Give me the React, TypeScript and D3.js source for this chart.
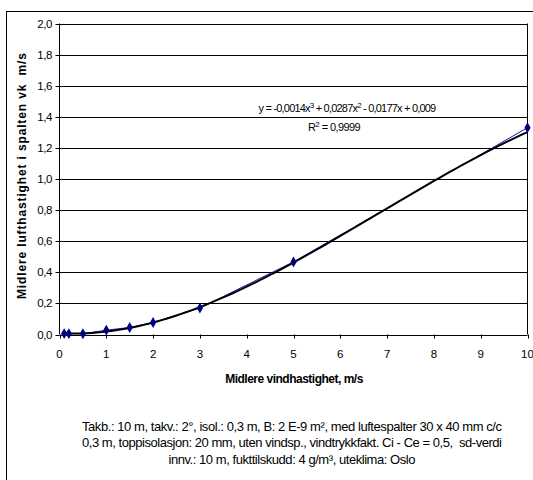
import React from 'react';
import * as d3 from 'd3';

// wind speed (m/s) and mean air velocity in the gap (m/s)
const windSpeeds = [0.1, 0.2, 0.5, 1, 1.5, 2, 3, 5, 10];
const airSpeeds = [0.006, 0.006, 0.005, 0.028, 0.045, 0.077, 0.17, 0.467, 1.33];

// polynomial trendline coefficients, highest power first (from the chart label)
const trendCoefs = [-0.0014, 0.0287, -0.0177, 0.009];

const xTicks = [0, 1, 2, 3, 4, 5, 6, 7, 8, 9, 10];
const yTicks = [0, 0.2, 0.4, 0.6, 0.8, 1.0, 1.2, 1.4, 1.6, 1.8, 2.0];

const captionLines = [
  'Takb.: 10 m, takv.: 2°, isol.: 0,3 m, B: 2 E-9 m², med luftespalter 30 x 40 mm c/c',
  '0,3 m, toppisolasjon: 20 mm, uten vindsp., vindtrykkfakt. Ci - Ce = 0,5,  sd-verdi',
  'innv.: 10 m, fukttilskudd: 4 g/m³, uteklima: Oslo',
];
const captionWidths = [420, 420, 247];

const W = 533;
const H = 480;
const font = '"Liberation Sans", Arial, sans-serif';

const App = () => {
  const x = d3.scaleLinear().domain([0, 10]).range([59.5, 527.5]);
  const y = d3.scaleLinear().domain([0, 2]).range([334.5, 23.5]);

  const fmt = (v: number) => d3.format('.1f')(v).replace('.', ',');

  const points = windSpeeds.map((w, i) => [w, airSpeeds[i]] as [number, number]);
  const dataLine = d3.line<[number, number]>()
    .x(d => x(d[0]))
    .y(d => y(d[1]));

  const poly = (v: number) => trendCoefs.reduce((acc, c) => acc * v + c, 0);
  const trendXs = d3.range(windSpeeds[0], 10.0001, 0.1);
  const trendLine = d3.line<number>()
    .x(d => x(d))
    .y(d => y(poly(d)))
    .curve(d3.curveMonotoneX);

  const diamond = d3.symbol().type(d3.symbolDiamond).size(34)();

  return (
    <svg width={W} height={H} style={{ position: 'absolute', left: 0, top: 0 }} fontFamily={font}>
      <rect x={0} y={0} width={W} height={H} fill="#fff" />
      <rect x={6.5} y={11.5} width={560} height={500} fill="none" stroke="#000" />

      {/* grid */}
      {yTicks.map(t => (
        <line key={'g' + t} x1={x(0)} x2={x(10)} y1={Math.round(y(t)) + 0.5} y2={Math.round(y(t)) + 0.5}
          stroke="#000" strokeWidth={1} />
      ))}
      <line x1={x(10)} x2={x(10)} y1={y(2)} y2={y(0)} stroke="#000" />
      <line x1={x(0)} x2={x(0)} y1={y(2)} y2={y(0)} stroke="#000" />

      {/* y axis ticks */}
      {yTicks.map(t => (
        <g key={'y' + t}>
          <line x1={x(0) - 4} x2={x(0)} y1={Math.round(y(t)) + 0.5} y2={Math.round(y(t)) + 0.5} stroke="#000" />
          <text x={52} y={y(t) + 4} fontSize={11.5} textAnchor="end" letterSpacing={-0.4}>{fmt(t)}</text>
        </g>
      ))}

      {/* x axis ticks */}
      {xTicks.map(t => (
        <g key={'x' + t}>
          <line x1={Math.round(x(t)) + 0.5} x2={Math.round(x(t)) + 0.5} y1={y(0)} y2={y(0) + 4} stroke="#000" />
          <text x={x(t)} y={358} fontSize={11.5} textAnchor="middle">{t}</text>
        </g>
      ))}

      {/* series */}
      <path d={dataLine(points) || ''} fill="none" stroke="#1010c0" strokeWidth={1} />
      <path d={trendLine(trendXs) || ''} fill="none" stroke="#000" strokeWidth={2} />
      {points.map((p, i) => (
        <path key={'p' + i} d={diamond || ''} transform={`translate(${x(p[0])},${y(p[1])})`} fill="#000080" />
      ))}

      {/* trendline label */}
      <text x={347} y={111.5} fontSize={11} textAnchor="middle" letterSpacing={-0.8}>
        y = -0,0014x<tspan fontSize={8} dy={-4}>3</tspan><tspan dy={4}> + 0,0287x</tspan><tspan fontSize={8} dy={-4}>2</tspan><tspan dy={4}> - 0,0177x + 0,009</tspan>
      </text>
      <text x={334} y={131} fontSize={11} textAnchor="middle" letterSpacing={-0.6}>
        R<tspan fontSize={8} dy={-4}>2</tspan><tspan dy={4}> = 0,9999</tspan>
      </text>

      {/* axis titles */}
      <text x={294} y={383} fontSize={12} fontWeight="bold" textAnchor="middle" letterSpacing={-0.5}>
        Midlere vindhastighet, m/s
      </text>
      <text transform={`translate(26,${176}) rotate(-90)`} fontSize={12} fontWeight="bold" textAnchor="middle"
        textLength={246} lengthAdjust="spacing" style={{ whiteSpace: 'pre' }}>
        {'Midlere lufthastighet i spalten vk  m/s'}
      </text>

      {/* caption */}
      {captionLines.map((l, i) => (
        <text key={'c' + i} x={292} y={430.5 + i * 16.5} fontSize={13} textAnchor="middle"
          textLength={captionWidths[i]} lengthAdjust="spacing" style={{ whiteSpace: 'pre' }}>
          {l}
        </text>
      ))}
    </svg>
  );
};

export default App;
